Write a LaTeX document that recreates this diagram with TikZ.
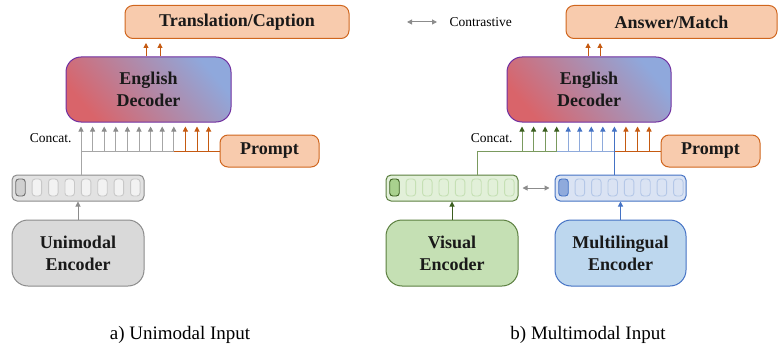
\documentclass[tikz,border=0pt]{standalone}
\usepackage{fontspec}
\setmainfont{Liberation Serif}
\usetikzlibrary{arrows.meta,calc}
\definecolor{orFill}{HTML}{F8CBAD}
\definecolor{orLine}{HTML}{D0661E}
\definecolor{orArr}{HTML}{C55A11}
\definecolor{gyFill}{HTML}{D9D9D9}
\definecolor{gyLine}{HTML}{8C8C8C}
\definecolor{gyBar}{HTML}{E2E2E2}
\definecolor{gyTok}{HTML}{F2F2F2}
\definecolor{gyTokL}{HTML}{C8C8C8}
\definecolor{gyTokA}{HTML}{D0D0D0}
\definecolor{gyTokAL}{HTML}{6E6E6E}
\definecolor{gyShaft}{HTML}{A6A6A6}
\definecolor{gnFill}{HTML}{C5E0B4}
\definecolor{gnLine}{HTML}{5B7F3F}
\definecolor{gnBar}{HTML}{E2F0D9}
\definecolor{gnTokL}{HTML}{C5E0B4}
\definecolor{gnTokA}{HTML}{A9D18E}
\definecolor{gnDark}{HTML}{3B5E1F}
\definecolor{gnShaft}{HTML}{7A9A5E}
\definecolor{blFill}{HTML}{BDD7EE}
\definecolor{blLine}{HTML}{4472C4}
\definecolor{blBar}{HTML}{DAE3F3}
\definecolor{blTokL}{HTML}{B4C7E7}
\definecolor{blTokA}{HTML}{8FAADC}
\definecolor{blShaft}{HTML}{8EAADB}
\definecolor{decRed}{HTML}{D9646A}
\definecolor{decBlue}{HTML}{8FA8DC}
\definecolor{decLine}{HTML}{7030A0}
\tikzset{
  boldlbl/.style={font=\fontsize{18}{22}\selectfont\bfseries, align=center, text=black!90},
  outbox/.style={boldlbl, draw=orLine, fill=orFill, line width=1pt, rounded corners=8pt, inner sep=0pt},
  decbox/.style={boldlbl, draw=decLine, line width=1pt, rounded corners=15pt, inner sep=0pt,
     top color=decBlue, bottom color=decRed, shading angle=-50, minimum width=165pt, minimum height=65pt},
  encbox/.style={boldlbl, line width=1pt, rounded corners=16pt, inner sep=0pt, minimum width=132pt, minimum height=66pt},
  barbox/.style={line width=1pt, rounded corners=5pt, inner sep=0pt, minimum width=132pt, minimum height=26pt},
  tokbox/.style={line width=0.9pt, rounded corners=3pt, inner sep=0pt, minimum width=9.5pt, minimum height=17pt},
  upar/.style={line width=1pt, -{Triangle[length=5pt,width=5pt]}, shorten >=4pt},
  small/.style={font=\fontsize{13.5}{16}\selectfont},
  capt/.style={font=\fontsize{19}{22}\selectfont},
}
\begin{document}
\begin{tikzpicture}[x=1pt,y=-1pt]
\useasboundingbox (0,0) rectangle (778,350);

% ---------- left panel ----------
\node[outbox, minimum width=224pt, minimum height=33pt] (trans) at (237,22) {Translation/Caption};
\node[decbox] (dec1) at (148.5,89.5) {English\\Decoder};
\node[outbox, minimum width=99pt, minimum height=32pt] (prompt1) at (269.5,151) {Prompt};
\node[barbox, draw=gyLine, fill=gyBar] (bar1) at (78,188) {};
\node[encbox, draw=gyLine, fill=gyFill] (enc1) at (78,253) {Unimodal\\Encoder};
\foreach \i in {0,...,7} {
  \ifnum\i=0
    \node[tokbox, draw=gyTokAL, fill=gyTokA] (tA\i) at ({20.5+16.4*\i},187.5) {};
  \else
    \node[tokbox, draw=gyTokL, fill=gyTok] (tA\i) at ({20.5+16.4*\i},187.5) {};
  \fi
}
\node[small, anchor=east] (concat1) at (75,138) {Concat.};
\node[capt] (capa) at (180,335) {a) Unimodal Input};

% top arrows
\foreach \x in {146,160} {
  \coordinate (ta\x) at (\x,0);
  \draw[upar, orArr] (ta\x |- dec1.north) -- (ta\x |- trans.south);
}
% input arrows
\coordinate (hl1) at (81,151);
\coordinate (hm1) at (173.8,151);
\draw[gyShaft, line width=1pt] (hl1) -- (hm1);
\draw[orArr, line width=1pt] (hm1) -- (prompt1.west);
\draw[gyShaft, line width=1pt] (hl1 |- bar1.north) -- (hl1);
\foreach \k in {0,...,11} {
  \coordinate (la\k) at ({81+11.6*\k},151);
  \ifnum\k<9
    \draw[upar, gyShaft, -{Triangle[length=5pt,width=5pt,color=gyLine]}] (la\k) -- (la\k |- dec1.south);
  \else
    \draw[upar, orArr] (la\k) -- (la\k |- dec1.south);
  \fi
}
\draw[line width=1pt, gyLine, -{Triangle[length=5pt,width=5pt]}] (enc1.north) -- (bar1.south);

% ---------- right panel ----------
\coordinate (legL) at (407,22);
\coordinate (legR) at (437,22);
\draw[gyLine, line width=1pt, {Triangle[length=5pt,width=5pt]}-{Triangle[length=5pt,width=5pt]}] (legL) -- (legR);
\node[small, anchor=west] (contr) at (446,22) {Contrastive};

\node[outbox, minimum width=211pt, minimum height=33pt] (ans) at (671.5,22) {Answer/Match};
\node[decbox, minimum width=164pt] (dec2) at (589,89.5) {English\\Decoder};
\node[outbox, minimum width=99pt, minimum height=32pt] (prompt2) at (710.5,151) {Prompt};
\node[barbox, draw=gnLine, fill=gnBar] (bar2) at (452,188) {};
\node[barbox, draw=blLine, fill=blBar, minimum width=131pt] (bar3) at (620.5,188) {};
\node[encbox, draw=gnLine, fill=gnFill] (enc2) at (452,253) {Visual\\Encoder};
\node[encbox, draw=blLine, fill=blFill, minimum width=131pt] (enc3) at (620.5,253) {Multilingual\\Encoder};
\foreach \i in {0,...,7} {
  \ifnum\i=0
    \node[tokbox, draw=gnDark, fill=gnTokA] (tB\i) at ({394.5+16.4*\i},187.5) {};
    \node[tokbox, draw=blLine, fill=blTokA] (tC\i) at ({563.5+16.4*\i},187.5) {};
  \else
    \node[tokbox, draw=gnTokL, fill=gnBar] (tB\i) at ({394.5+16.4*\i},187.5) {};
    \node[tokbox, draw=blTokL, fill=blBar] (tC\i) at ({563.5+16.4*\i},187.5) {};
  \fi
}
\draw[gyLine, line width=1pt, {Triangle[length=5pt,width=5pt]}-{Triangle[length=5pt,width=5pt]}, shorten <=4pt, shorten >=5pt] (bar2.east) -- (bar3.west);
\node[small, anchor=east] (concat2) at (516,138) {Concat.};
\node[capt] (capb) at (588,335) {b) Multimodal Input};

\foreach \x in {588,600} {
  \coordinate (tb\x) at (\x,0);
  \draw[upar, orArr] (tb\x |- dec2.north) -- (tb\x |- ans.south);
}
\coordinate (hl2) at (477,151);
\coordinate (hg2) at (557,151);
\coordinate (hb2) at (614,151);
\draw[gnShaft, line width=1pt] (hl2 |- bar2.north) -- (hl2) -- (hg2);
\draw[blShaft, line width=1pt] (hg2) -- (hb2);
\draw[orArr, line width=1pt] (hb2) -- (prompt2.west);
\foreach \k in {0,...,11} {
  \coordinate (ra\k) at ({522+11.55*\k},151);
  \ifnum\k<4
    \draw[upar, gnShaft, -{Triangle[length=5pt,width=5pt,color=gnDark]}] (ra\k) -- (ra\k |- dec2.south);
  \else\ifnum\k<8
    \draw[upar, blShaft, -{Triangle[length=5pt,width=5pt,color=blLine]}] (ra\k) -- (ra\k |- dec2.south);
  \else\ifnum\k=8
    \draw[upar, blLine] (ra\k |- bar3.north) -- (ra\k |- dec2.south);
  \else
    \draw[upar, orArr] (ra\k) -- (ra\k |- dec2.south);
  \fi\fi\fi
}
\draw[line width=1pt, gnDark, -{Triangle[length=5pt,width=5pt]}] (enc2.north) -- (bar2.south);
\draw[line width=1pt, blLine, -{Triangle[length=5pt,width=5pt]}] (enc3.north) -- (bar3.south);
\end{tikzpicture}
\end{document}
